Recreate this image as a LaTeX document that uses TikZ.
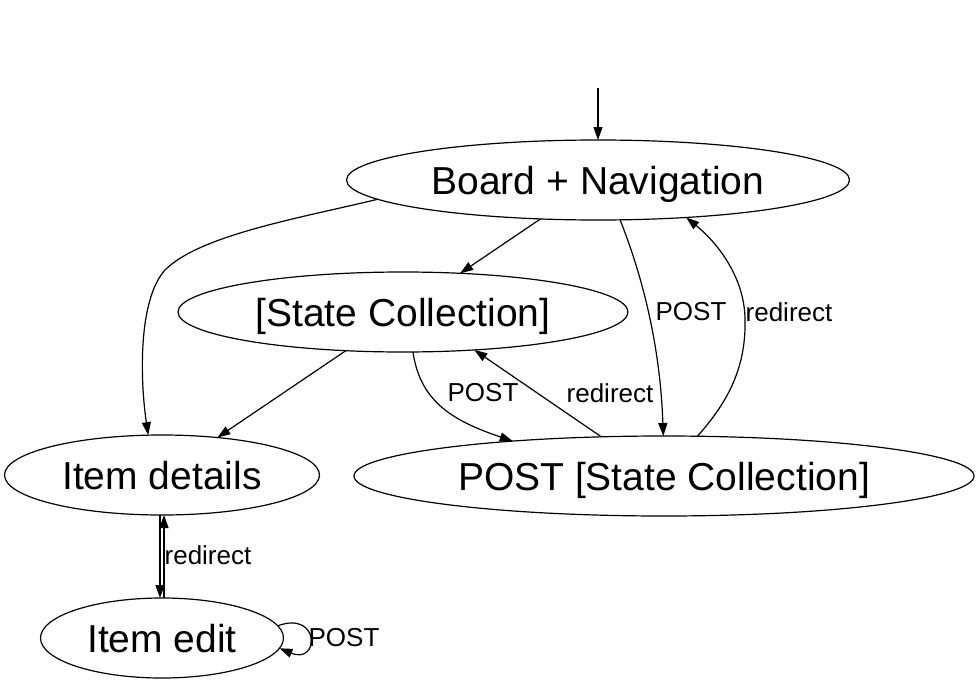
\documentclass[tikz,border=0pt]{standalone}
\usepackage{fontspec}
\setmainfont{Liberation Sans}
\usetikzlibrary{arrows.meta,shapes.geometric}
\begin{document}
\begin{tikzpicture}[x=1pt,y=-1pt,
  st/.style={draw, ellipse, line width=1.2pt, inner sep=0pt, outer sep=0pt, minimum height=80pt, text height=28.5pt, text depth=0pt, font=\fontsize{39}{39}\selectfont},
  edge/.style={draw, line width=1.2pt, -{Triangle[length=13pt,width=9pt]}},
  lab/.style={font=\fontsize{26}{26}\selectfont, inner sep=0pt}]
\useasboundingbox (0,0) rectangle (979,685);
\fill[white] (0,0) rectangle (979,685);
\node[st, minimum width=503pt] (board) at (598,180) {Board + Navigation};
\node[st, minimum width=450pt] (sc) at (403,312) {[State Collection]};
\node[st, minimum width=315pt] (id) at (162,475) {Item details};
\node[st, minimum width=620pt] (psc) at (664,476) {POST [State Collection]};
\node[st, minimum width=243pt] (ie) at (162,638) {Item edit};
\coordinate (init) at (598,88);
\draw[edge] (init) -- (board);
\draw[edge] (board) -- (sc);
\draw[edge] (board.185.5) .. controls (300,218) and (200,235) .. (165,270) .. controls (138,300) and (140,380) .. (id.109);
\draw[edge] (board.-61) .. controls (640,270) and (660,340) .. (psc.91);
\draw[edge] (psc.50) .. controls (730,400) and (746,365) .. (745,320) .. controls (745,280) and (720,245) .. (board.-23.6);
\draw[edge] (sc) -- (id);
\draw[edge] (sc.-76) .. controls (420,400) and (450,420) .. (psc.167);
\draw[edge] (psc.148) -- (sc.-28);
\draw[edge] ([xshift=-2pt]id.south) -- ([xshift=-2pt]ie.north);
\draw[edge] ([xshift=2pt]ie.north) -- ([xshift=2pt]id.south);
\draw[edge] (ie.6.4) .. controls (320,610) and (320,665) .. (ie.-5.3);
\node[lab] (l1) at (691,312) {POST};
\node[lab] (l2) at (789,312) {redirect};
\node[lab] (l3) at (483,393) {POST};
\node[lab] (l4) at (610,393) {redirect};
\node[lab] (l5) at (208,555) {redirect};
\node[lab] (l6) at (344,638) {POST};
\end{tikzpicture}
\end{document}
